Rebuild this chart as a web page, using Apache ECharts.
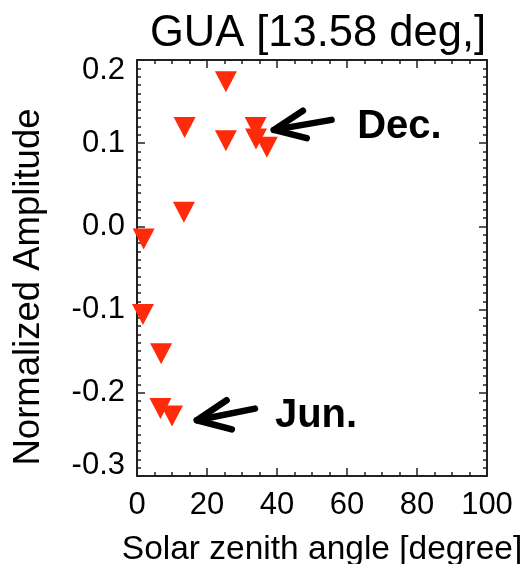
<!DOCTYPE html>
<html>
<head>
<meta charset="utf-8">
<script src="https://cdn.jsdelivr.net/npm/echarts@6/dist/echarts.min.js"></script>
<style>html,body{margin:0;padding:0;background:#fff}#c{width:524px;height:564px}</style>
</head>
<body>
<div id="c"></div>
<script>
// Data: solar zenith angle (deg) vs normalized amplitude
const zenithAngle = [25.4, 13.6, 25.4, 33.9, 34.0, 37.1, 13.4, 1.9, 1.7, 6.9, 6.7, 10.0];
const amplitude   = [0.174, 0.119, 0.103, 0.119, 0.105, 0.095, 0.017, -0.015, -0.106, -0.153, -0.219, -0.228];
const xTicks = [0, 20, 40, 60, 80, 100];
const yTicks = [-0.3, -0.2, -0.1, 0.0, 0.1, 0.2];
const titleText = 'GUA [13.58 deg,]';
const xName = 'Solar zenith angle [degree]';
const yName = 'Normalized Amplitude';
// Annotations (data coordinates): arrow tail, tip, wing1, wing2; label anchor (left, cap middle)
const decArrow = [[55.6, 0.128], [39.1, 0.116], [47.4, 0.139], [48.5, 0.106]];
const junArrow = [[33.7, -0.219], [17.1, -0.233], [25.6, -0.209], [27.1, -0.244]];
const decLabel = ['Dec.', 62.9, 0.119];
const junLabel = ['Jun.', 39.4, -0.228];

const FONT = 'Liberation Sans, Arial, Helvetica, sans-serif';
const chart = echarts.init(document.getElementById('c'), null, {renderer: 'canvas'});
const axisLineStyle = {color: '#222', width: 2};
const xBase = {
  type: 'value', min: xTicks[0], max: xTicks[xTicks.length - 1], interval: 20,
  axisLine: {show: true, onZero: false, lineStyle: axisLineStyle},
  axisTick: {show: true, inside: true, length: 8, lineStyle: {color: '#222', width: 1.5}},
  minorTick: {show: true, splitNumber: 4, length: 4, lineStyle: {color: '#222', width: 1.5}},
  splitLine: {show: false}
};
const yBase = {
  type: 'value', min: yTicks[0], max: yTicks[yTicks.length - 1], interval: 0.1,
  axisLine: {show: true, onZero: false, lineStyle: axisLineStyle},
  axisTick: {show: true, inside: true, length: 8, lineStyle: {color: '#222', width: 1.5}},
  minorTick: {show: true, splitNumber: 10, length: 4, lineStyle: {color: '#222', width: 1.5}},
  splitLine: {show: false}
};
chart.setOption({
  animation: false,
  backgroundColor: '#fff',
  title: {
    text: titleText, left: 313, top: 7, textAlign: 'center',
    textStyle: {fontFamily: FONT, fontSize: 43.5, fontWeight: 'normal', color: '#000'}
  },
  grid: {left: 137, right: 37, top: 60, bottom: 88, containLabel: false, outerBoundsMode: 'none'},
  xAxis: [
    Object.assign({}, xBase, {
      position: 'bottom',
      name: xName, nameLocation: 'middle', nameGap: 57,
      nameTextStyle: {fontFamily: FONT, fontSize: 33.5, color: '#000', padding: [0, 0, 0, 20]},
      axisLabel: {fontFamily: FONT, fontSize: 31, color: '#000', margin: 14}
    }),
    Object.assign({}, xBase, {position: 'top', axisLabel: {show: false}})
  ],
  yAxis: [
    Object.assign({}, yBase, {
      position: 'left',
      name: yName, nameLocation: 'middle', nameGap: 90,
      nameTextStyle: {fontFamily: FONT, fontSize: 36.5, color: '#000', padding: [0, 38, 0, 0]},
      axisLabel: {
        fontFamily: FONT, fontSize: 31, color: '#000', margin: 12,
        formatter: function (v) {
          const s = (Math.abs(v) < 1e-9 ? 0 : v).toFixed(1);
          if (Math.abs(v - yTicks[yTicks.length - 1]) < 1e-9) return '{t|' + s + '}';
          if (Math.abs(v - yTicks[0]) < 1e-9) return '{b|' + s + '}';
          return s;
        },
        rich: {
          t: {fontFamily: FONT, fontSize: 31, color: '#000', padding: [20, 0, 0, 0]},
          b: {fontFamily: FONT, fontSize: 31, color: '#000', padding: [0, 0, 22, 0]}
        }
      }
    }),
    Object.assign({}, yBase, {position: 'right', axisLabel: {show: false}})
  ],
  series: [{
    type: 'scatter',
    data: zenithAngle.map((x, i) => [x, amplitude[i]]),
    symbol: 'triangle', symbolRotate: 180, symbolSize: [22, 21],
    itemStyle: {color: '#ff2a0a', opacity: 1},
    clip: false
  }]
});

function arrowGraphics(arr) {
  const p = arr.map(d => chart.convertToPixel({xAxisIndex: 0, yAxisIndex: 0}, d));
  const style = {stroke: '#000', lineWidth: 6.5, lineCap: 'round', lineJoin: 'round', fill: null};
  return [
    {type: 'polyline', shape: {points: [p[0], p[1]]}, style: style, z: 100},
    {type: 'polyline', shape: {points: [p[2], p[1], p[3]]}, style: style, z: 100}
  ];
}
function labelGraphic(lab) {
  const p = chart.convertToPixel({xAxisIndex: 0, yAxisIndex: 0}, [lab[1], lab[2]]);
  return {type: 'text', x: p[0], y: p[1], z: 100,
    style: {text: lab[0], fontFamily: FONT, fontSize: 40, fontWeight: 'bold', fill: '#000',
      align: 'left', verticalAlign: 'middle'}};
}
chart.setOption({
  graphic: [].concat(arrowGraphics(decArrow), arrowGraphics(junArrow),
    [labelGraphic(decLabel), labelGraphic(junLabel)])
});
</script>
</body>
</html>
